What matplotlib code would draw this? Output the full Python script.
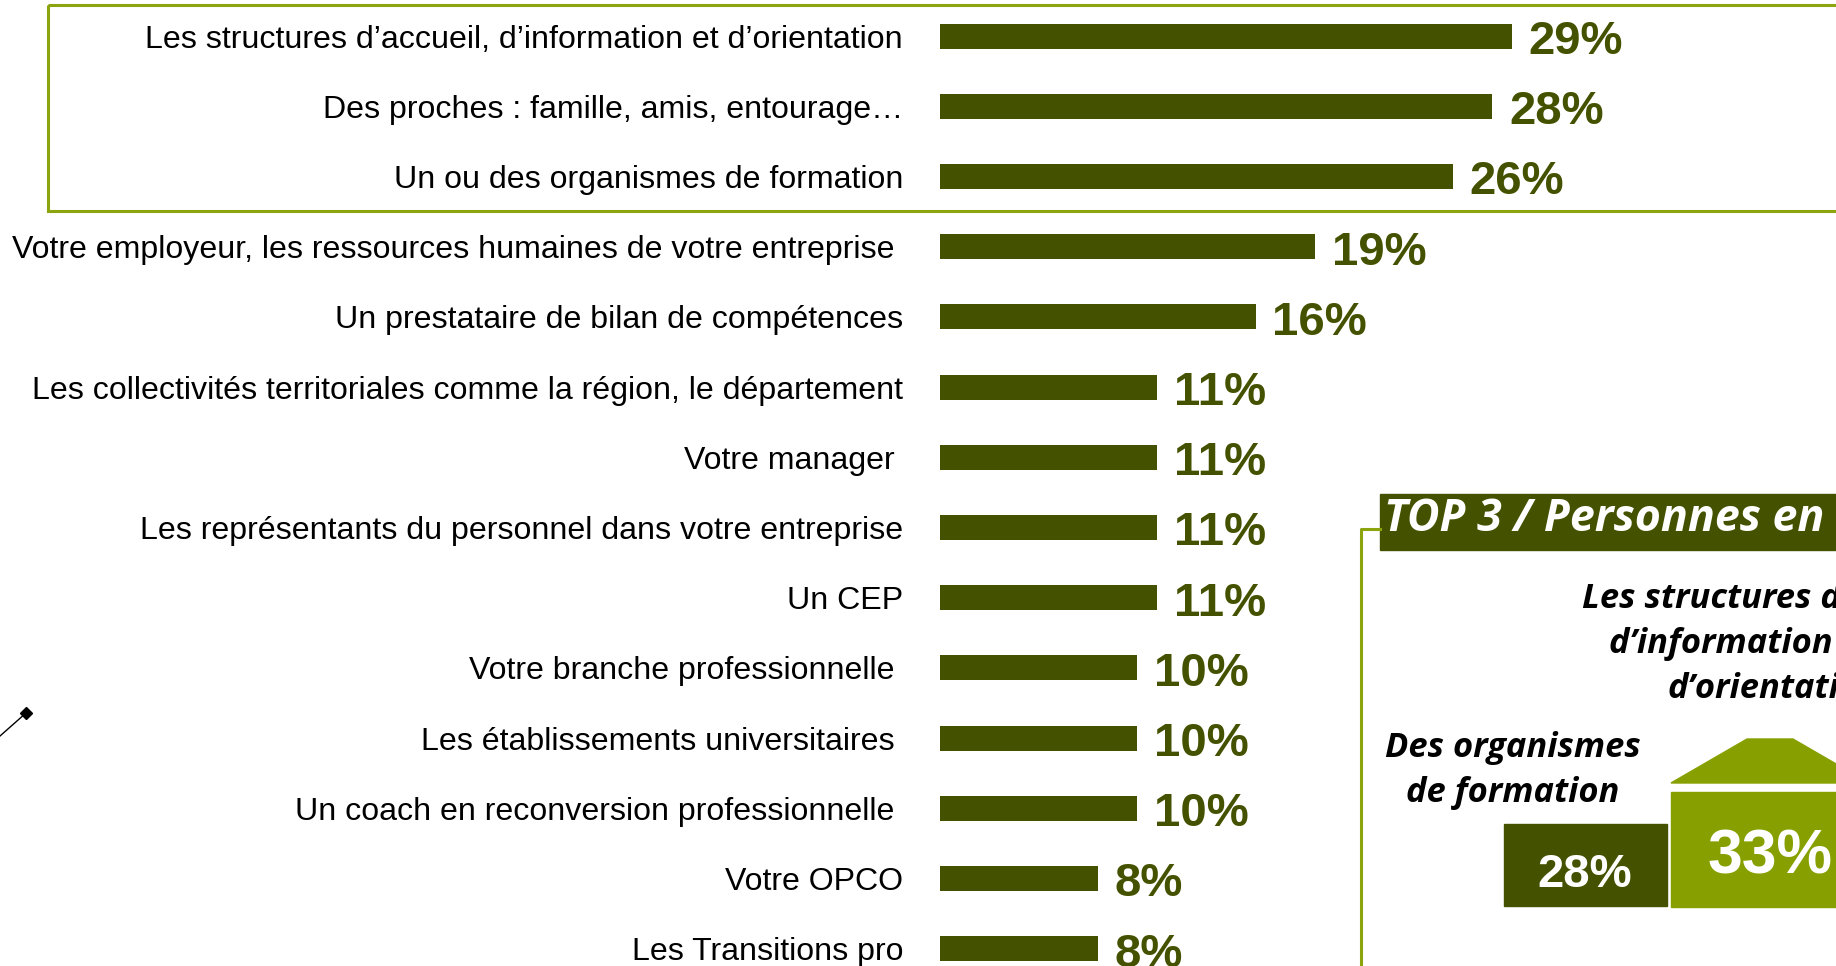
import matplotlib
matplotlib.use("Agg")
import matplotlib.pyplot as plt
from matplotlib.patches import Rectangle, Polygon
from matplotlib.lines import Line2D

# Sources d'information citées (en %)
labels = [
    "Les structures d\u2019accueil, d\u2019information et d\u2019orientation",
    "Des proches : famille, amis, entourage\u2026",
    "Un ou des organismes de formation",
    "Votre employeur, les ressources humaines de votre entreprise ",
    "Un prestataire de bilan de compétences",
    "Les collectivités territoriales comme la région, le département",
    "Votre manager ",
    "Les représentants du personnel dans votre entreprise",
    "Un CEP",
    "Votre branche professionnelle ",
    "Les établissements universitaires ",
    "Un coach en reconversion professionnelle ",
    "Votre OPCO",
    "Les Transitions pro",
]
values = [29, 28, 26, 19, 16, 11, 11, 11, 11, 10, 10, 10, 8, 8]

# Encadré TOP 3
top3_title = "TOP 3 / Personnes en"
top3_first = ["Les structures d\u2019accueil,", "d\u2019information et", "d\u2019orientation"]
top3_second = ["Des organismes", "de formation"]
top3_values = [33, 28]

DARK = "#445200"
LIGHT = "#87a000"
LINE = "#8ca50f"

W, H = 1836, 966
fig = plt.figure(figsize=(W / 100, H / 100), dpi=100)

# --- bar chart -------------------------------------------------------------
px_per_pct = 19.72
row_h = 70.2
first_row = 36
ax = fig.add_axes([940 / W, 0, 40 * px_per_pct / W, 1])
ax.set_xlim(0, 40)
ax.set_ylim((H - first_row) / row_h, -first_row / row_h)
ypos = list(range(len(values)))
ax.barh(ypos, values, height=25 / row_h, color=DARK)
ax.set_yticks(ypos)
ax.set_yticklabels(labels, fontsize=23.1, family="Liberation Sans", color="black")
ax.tick_params(axis="y", length=0, pad=26.6)
ax.set_xticks([])
for s in ax.spines.values():
    s.set_visible(False)
ax.patch.set_alpha(0)

for y, v in zip(ypos, values):
    ax.annotate(f"{v}%", xy=(v, y), xytext=(12.2, -13), textcoords="offset points",
                ha="left", va="baseline", fontsize=34, fontweight="bold",
                family="Liberation Sans", color=DARK)

# --- overlay in pixel coordinates ------------------------------------------
ov = fig.add_axes([0, 0, 1, 1])
ov.set_xlim(0, W)
ov.set_ylim(H, 0)
ov.axis("off")
ov.patch.set_alpha(0)
ov.set_zorder(-1)

# frame around the top three rows
ov.add_patch(Rectangle((48, 5), 1900, 206, fill=False, edgecolor=LINE, lw=2.2,
                       clip_on=False))

# small pointer on the left
ov.add_line(Line2D([0, 26], [736, 713], color="black", lw=1))
ov.plot([26], [713], marker="D", ms=6.5, color="black")

# TOP 3 panel
ov.add_line(Line2D([1361, 1361, 1380], [H + 5, 529, 529], color=LINE, lw=2.2,
                   clip_on=False))
ov.add_patch(Rectangle((1380, 494), 520, 56, color=DARK, clip_on=False))
ov.text(1384, 531, top3_title, color="white", fontsize=32.2, family="Open Sans",
        fontweight="bold", fontstyle="italic", ha="left", va="baseline")

pan_font = dict(fontsize=24.8, family="Open Sans", fontweight="bold",
                fontstyle="italic", color="black", va="baseline")
for x, y, t in zip([1582, 1609, 1667], [608, 653, 698], top3_first):
    ov.text(x, y, t, ha="left", **pan_font)
for y, t in zip([757, 802], top3_second):
    ov.text(1513, y, t, ha="center", **pan_font)

# podium steps
ov.add_patch(Polygon([(1671, 783), (1747, 739), (1793, 739), (1869, 783)],
                     closed=True, color=LIGHT, clip_on=False))
ov.add_patch(Rectangle((1671, 792), 198, 115, color=LIGHT, clip_on=False))
ov.add_patch(Rectangle((1504, 824), 163, 82, color=DARK))
ov.text(1770, 873, f"{top3_values[0]}%", color="white", fontsize=45,
        fontweight="bold", family="Liberation Sans", ha="center", va="baseline")
ov.text(1585, 887, f"{top3_values[1]}%", color="white", fontsize=34,
        fontweight="bold", family="Liberation Sans", ha="center", va="baseline")

fig.savefig("out.png", dpi=100)
